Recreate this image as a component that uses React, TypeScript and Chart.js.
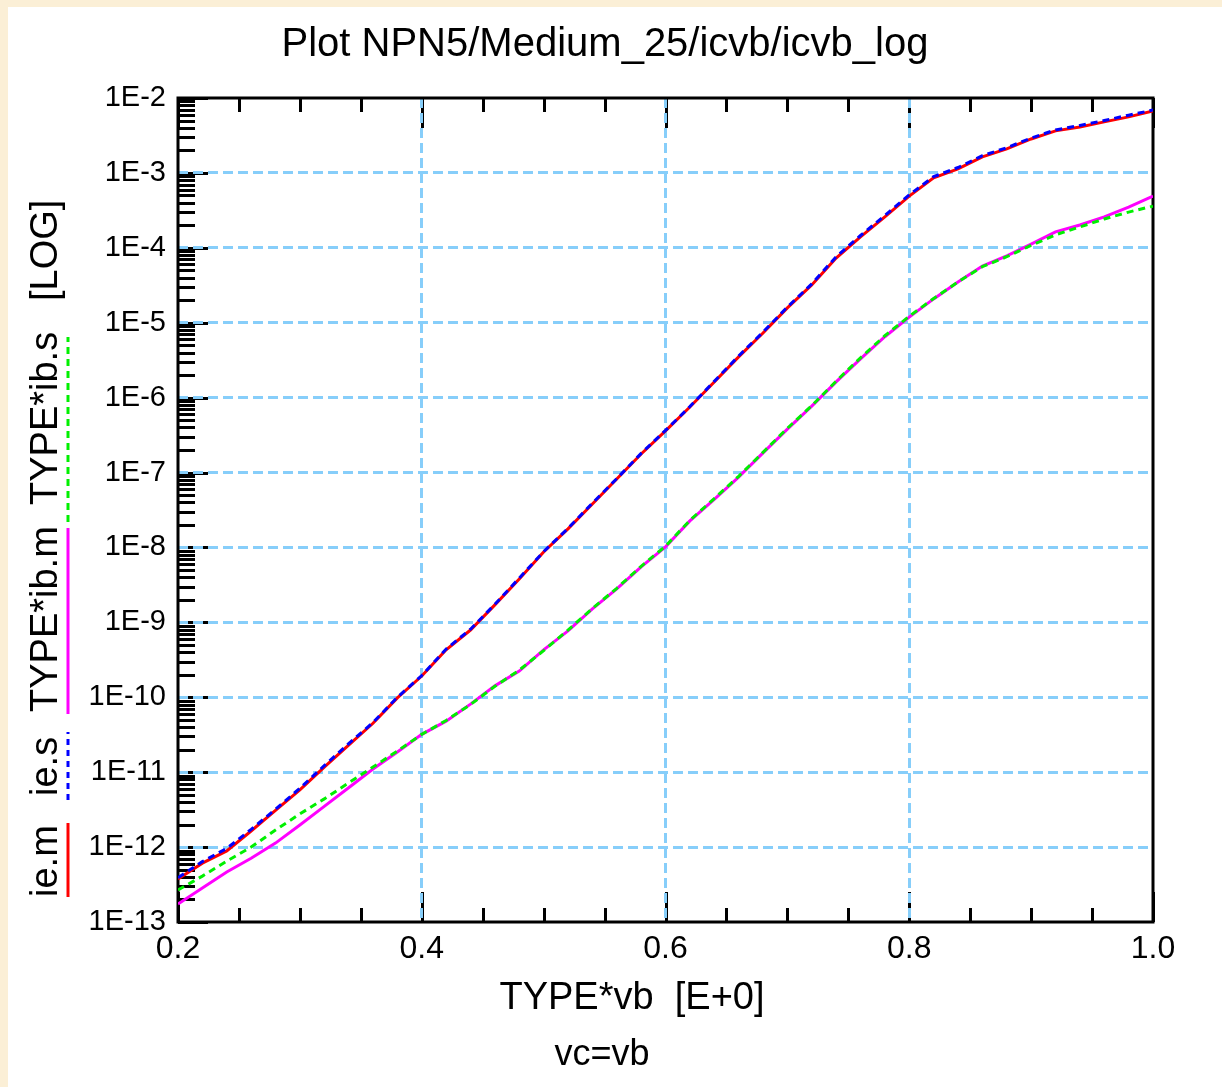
import React, { useEffect, useRef } from 'react';
import { Chart, registerables } from 'chart.js';

Chart.register(...registerables);

// ---------- texts ----------
const TITLE = 'Plot NPN5/Medium_25/icvb/icvb_log';
const X_TITLE = 'TYPE*vb  [E+0]';
const SUBTITLE = 'vc=vb';
const Y_UNIT = '[LOG]';

// ---------- axes ----------
const X_MIN = 0.2;
const X_MAX = 1.0;
const X_STEP = 0.05;
const X_LABELED = [0.2, 0.4, 0.6, 0.8, 1.0];
const Y_MIN = 1e-13;
const Y_MAX = 1e-2;
const Y_EXPONENTS = [-13, -12, -11, -10, -9, -8, -7, -6, -5, -4, -3, -2];
const Y_MANTISSAS = [1, 2, 3, 4, 5, 6, 7, 8, 9];

// ---------- data ----------
const VB = [
  0.20, 0.22, 0.24, 0.26, 0.28, 0.30, 0.32, 0.34, 0.36, 0.38,
  0.40, 0.42, 0.44, 0.46, 0.48, 0.50, 0.52, 0.54, 0.56, 0.58,
  0.60, 0.62, 0.64, 0.66, 0.68, 0.70, 0.72, 0.74, 0.76, 0.78,
  0.80, 0.82, 0.84, 0.86, 0.88, 0.90, 0.92, 0.94, 0.96, 0.98, 1.00,
];

const IE_M = [
  3.75e-13, 6.1e-13, 8.9e-13, 1.64e-12, 3.1e-12, 5.8e-12, 1.17e-11, 2.3e-11, 4.5e-11, 9.8e-11,
  1.92e-10, 4.3e-10, 7.9e-10, 1.71e-9, 3.8e-9, 8.7e-9, 1.77e-8, 3.8e-8, 8.2e-8, 1.77e-7,
  3.6e-7, 7.5e-7, 1.62e-6, 3.5e-6, 7.3e-6, 1.58e-5, 3.2e-5, 7.3e-5, 1.40e-4, 2.59e-4,
  4.9e-4, 8.6e-4, 1.13e-3, 1.64e-3, 2.09e-3, 2.84e-3, 3.64e-3, 4.1e-3, 4.8e-3, 5.6e-3, 6.7e-3,
];

const IE_S = [
  3.9e-13, 6.4e-13, 9.6e-13, 1.72e-12, 3.2e-12, 6.1e-12, 1.22e-11, 2.4e-11, 4.6e-11, 1.0e-10,
  1.95e-10, 4.4e-10, 8.1e-10, 1.74e-9, 3.9e-9, 8.8e-9, 1.80e-8, 3.9e-8, 8.3e-8, 1.80e-7,
  3.65e-7, 7.6e-7, 1.65e-6, 3.6e-6, 7.5e-6, 1.62e-5, 3.3e-5, 7.6e-5, 1.46e-4, 2.7e-4,
  5.1e-4, 8.9e-4, 1.18e-3, 1.70e-3, 2.17e-3, 2.92e-3, 3.75e-3, 4.3e-3, 5.0e-3, 5.9e-3, 6.9e-3,
];

const IB_M = [
  1.74e-13, 2.84e-13, 4.66e-13, 7.1e-13, 1.13e-12, 1.97e-12, 3.5e-12, 6.2e-12, 1.10e-11, 1.86e-11,
  3.2e-11, 4.8e-11, 8.1e-11, 1.42e-10, 2.24e-10, 4.3e-10, 7.7e-10, 1.51e-9, 2.79e-9, 5.5e-9,
  1.02e-8, 2.26e-8, 4.4e-8, 8.7e-8, 1.83e-7, 3.8e-7, 7.7e-7, 1.62e-6, 3.3e-6, 6.5e-6,
  1.19e-5, 2.08e-5, 3.5e-5, 5.7e-5, 7.8e-5, 1.12e-4, 1.63e-4, 2.02e-4, 2.59e-4, 3.5e-4, 4.9e-4,
];

const IB_S = [
  2.67e-13, 4.1e-13, 6.5e-13, 1.0e-12, 1.69e-12, 2.77e-12, 4.4e-12, 7.2e-12, 1.17e-11, 1.92e-11,
  3.2e-11, 4.9e-11, 8.0e-11, 1.40e-10, 2.3e-10, 4.2e-10, 7.9e-10, 1.53e-9, 2.85e-9, 5.6e-9,
  1.04e-8, 2.3e-8, 4.5e-8, 8.9e-8, 1.86e-7, 3.9e-7, 7.8e-7, 1.66e-6, 3.4e-6, 6.7e-6,
  1.22e-5, 2.1e-5, 3.5e-5, 5.6e-5, 7.6e-5, 1.08e-4, 1.49e-4, 1.90e-4, 2.43e-4, 3.0e-4, 3.6e-4,
];

// ---------- series styling / legend ----------
const SERIES = [
  { label: 'ie.s', values: IE_S, color: '#0000ff', dash: [7, 5] },
  { label: 'ie.m', values: IE_M, color: '#ff0000', dash: [] as number[] },
  { label: 'TYPE*ib.s', values: IB_S, color: '#00f000', dash: [7, 5] },
  { label: 'TYPE*ib.m', values: IB_M, color: '#ff00ff', dash: [] as number[] },
];

// legend column (canvas coords): text starts at yStart and reads upward
const LEGEND_ITEMS = [
  { label: 'ie.m', color: '#ff0000', dash: [] as number[], yStart: 890, lineTop: 816, lineBottom: 890 },
  { label: 'ie.s', color: '#0000ff', dash: [6, 5], yStart: 789, lineTop: 725, lineBottom: 793 },
  { label: 'TYPE*ib.m', color: '#ff00ff', dash: [] as number[], yStart: 705, lineTop: 521, lineBottom: 707 },
  { label: 'TYPE*ib.s', color: '#00f000', dash: [7, 5], yStart: 498, lineTop: 330, lineBottom: 515 },
];

const FONT = '"Liberation Sans", Arial, sans-serif';
const GRID_COLOR = '#87cefa';

const isDecade = (v: number) => {
  const l = Math.log10(v);
  return Math.abs(l - Math.round(l)) < 1e-6;
};
const isLabeledX = (v: number) => X_LABELED.some((m) => Math.abs(m - v) < 1e-6);

const decorPlugin = {
  id: 'decor',
  beforeDraw(chart: any) {
    const { ctx, chartArea: a, scales } = chart;
    ctx.save();
    ctx.fillStyle = '#ffffff';
    ctx.fillRect(0, 0, chart.width, chart.height);
    ctx.strokeStyle = '#000000';
    ctx.lineWidth = 3;
    ctx.setLineDash([]);
    const y = scales.y;
    y.ticks.forEach((t: any) => {
      const py = Math.round(y.getPixelForValue(t.value)) + 0.5;
      const len = isDecade(t.value) ? 30 : 17;
      ctx.beginPath();
      ctx.moveTo(a.left, py);
      ctx.lineTo(a.left + len, py);
      ctx.stroke();
    });
    const x = scales.x;
    x.ticks.forEach((t: any) => {
      const px = Math.round(x.getPixelForValue(t.value)) + 0.5;
      const len = isLabeledX(t.value) ? 30 : 14;
      ctx.beginPath();
      ctx.moveTo(px, a.bottom);
      ctx.lineTo(px, a.bottom - len);
      ctx.moveTo(px, a.top);
      ctx.lineTo(px, a.top + len);
      ctx.stroke();
    });
    ctx.restore();
  },
  beforeDatasetsDraw(chart: any) {
    const { ctx, chartArea: a } = chart;
    ctx.save();
    ctx.strokeStyle = '#000000';
    ctx.lineWidth = 3;
    ctx.setLineDash([]);
    ctx.strokeRect(a.left, a.top, a.right - a.left, a.bottom - a.top);
    ctx.restore();
  },
  afterDraw(chart: any) {
    const { ctx } = chart;
    ctx.save();
    ctx.fillStyle = '#000000';
    ctx.textBaseline = 'alphabetic';
    ctx.textAlign = 'center';
    ctx.font = `40px ${FONT}`;
    ctx.fillText(TITLE, 597, 49);
    ctx.font = `38px ${FONT}`;
    ctx.fillText(X_TITLE, 624, 1002);
    ctx.font = `36px ${FONT}`;
    ctx.fillText(SUBTITLE, 594, 1058);

    // rotated legend column
    ctx.font = `38px ${FONT}`;
    ctx.textAlign = 'left';
    LEGEND_ITEMS.forEach((it) => {
      ctx.save();
      ctx.translate(49, it.yStart);
      ctx.rotate(-Math.PI / 2);
      ctx.fillStyle = '#000000';
      ctx.fillText(it.label, 0, 0);
      ctx.restore();
      ctx.save();
      ctx.strokeStyle = it.color;
      ctx.lineWidth = 3;
      ctx.setLineDash(it.dash);
      ctx.beginPath();
      ctx.moveTo(60, it.lineBottom);
      ctx.lineTo(60, it.lineTop);
      ctx.stroke();
      ctx.restore();
    });
    ctx.save();
    ctx.translate(49, 294);
    ctx.rotate(-Math.PI / 2);
    ctx.fillText(Y_UNIT, 0, 0);
    ctx.restore();
    ctx.restore();
  },
};

export default function App() {
  const canvasRef = useRef<HTMLCanvasElement | null>(null);

  useEffect(() => {
    const canvas = canvasRef.current;
    if (!canvas) return;
    const chart = new Chart(canvas, {
      type: 'line',
      data: {
        datasets: SERIES.map((s) => ({
          label: s.label,
          data: VB.map((v, i) => ({ x: v, y: s.values[i] })),
          borderColor: s.color,
          backgroundColor: s.color,
          borderWidth: 3,
          borderDash: s.dash,
          pointRadius: 0,
          tension: 0,
          fill: false,
        })),
      },
      options: {
        animation: false,
        responsive: false,
        devicePixelRatio: 1,
        events: [],
        layout: { padding: { left: 0, top: 91, right: 69, bottom: 0 } },
        plugins: {
          legend: { display: false },
          tooltip: { enabled: false },
          title: { display: false },
        },
        scales: {
          x: {
            type: 'linear',
            min: X_MIN,
            max: X_MAX,
            afterFit: (scale: any) => {
              scale.height = 165;
            },
            afterBuildTicks: (scale: any) => {
              const ticks = [];
              const n = Math.round((X_MAX - X_MIN) / X_STEP);
              for (let i = 0; i <= n; i++) ticks.push({ value: X_MIN + i * X_STEP });
              scale.ticks = ticks;
            },
            ticks: {
              autoSkip: false,
              maxRotation: 0,
              minRotation: 0,
              padding: 8,
              color: '#000000',
              font: { family: FONT, size: 32 },
              callback: (v: any) => (isLabeledX(Number(v)) ? Number(v).toFixed(1) : ''),
            },
            grid: {
              drawTicks: false,
              lineWidth: 3,
              color: (c: any) => {
                const v = c.tick ? c.tick.value : NaN;
                if (!isLabeledX(v)) return 'rgba(0,0,0,0)';
                if (Math.abs(v - X_MIN) < 1e-6 || Math.abs(v - X_MAX) < 1e-6) return 'rgba(0,0,0,0)';
                return GRID_COLOR;
              },
            },
            border: { display: false, dash: [10, 5] },
          },
          y: {
            type: 'logarithmic',
            min: Y_MIN,
            max: Y_MAX,
            afterFit: (scale: any) => {
              scale.width = 170;
            },
            afterBuildTicks: (scale: any) => {
              const ticks: any[] = [];
              Y_EXPONENTS.forEach((e) => {
                Y_MANTISSAS.forEach((m) => {
                  const v = m * Math.pow(10, e);
                  if (v >= Y_MIN * 0.999 && v <= Y_MAX * 1.001) ticks.push({ value: v, major: m === 1 });
                });
              });
              scale.ticks = ticks;
            },
            ticks: {
              autoSkip: false,
              padding: 12,
              color: '#000000',
              font: { family: FONT, size: 29 },
              callback: (v: any) => {
                const n = Number(v);
                return isDecade(n) ? `1E${Math.round(Math.log10(n))}` : '';
              },
            },
            grid: {
              drawTicks: false,
              lineWidth: 3,
              color: (c: any) => {
                const v = c.tick ? c.tick.value : NaN;
                if (!isDecade(v)) return 'rgba(0,0,0,0)';
                if (Math.abs(Math.log10(v) - Math.log10(Y_MIN)) < 1e-6) return 'rgba(0,0,0,0)';
                if (Math.abs(Math.log10(v) - Math.log10(Y_MAX)) < 1e-6) return 'rgba(0,0,0,0)';
                return GRID_COLOR;
              },
            },
            border: { display: false, dash: [10, 5] },
          },
        },
      } as any,
      plugins: [decorPlugin],
    });
    return () => chart.destroy();
  }, []);

  return (
    <div
      style={{
        position: 'fixed',
        left: 0,
        top: 0,
        width: 1222,
        height: 1087,
        background: '#fbefd6',
        overflow: 'hidden',
      }}
    >
      <canvas
        ref={canvasRef}
        width={1214}
        height={1080}
        style={{ position: 'absolute', left: 8, top: 7, width: 1214, height: 1080, background: '#ffffff' }}
      />
    </div>
  );
}
